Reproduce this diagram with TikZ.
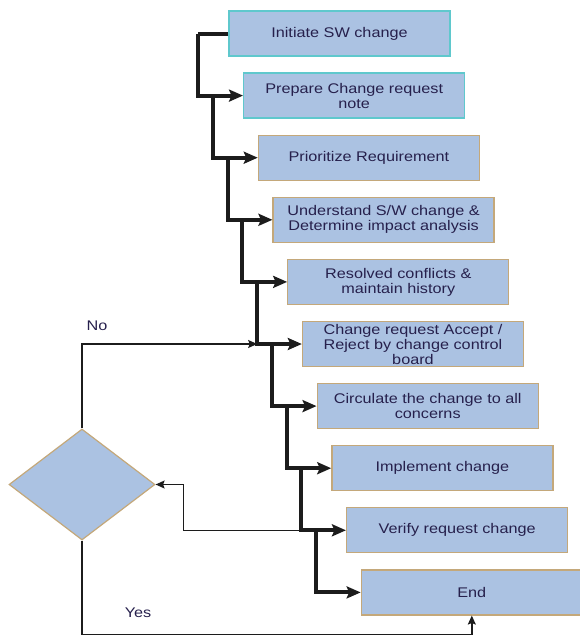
\documentclass[tikz,border=0pt]{standalone}
\usepackage{fontspec}
\setmainfont{Liberation Sans}[FakeStretch=1.16]
\usetikzlibrary{arrows.meta,shapes.geometric,calc}
\definecolor{boxfill}{RGB}{171,194,226}
\definecolor{tanb}{RGB}{196,168,122}
\definecolor{tealb}{RGB}{95,200,205}
\definecolor{txt}{RGB}{38,32,76}
\definecolor{ln}{RGB}{28,28,28}
\begin{document}
\begin{tikzpicture}[x=1pt,y=-1pt,
  stepbox/.style={draw=tanb,line width=1.3pt,fill=boxfill,minimum width=221pt,minimum height=45pt,inner sep=0pt,align=center,text=txt,font=\fontsize{14}{15}\selectfont},
  tealbox/.style={stepbox,draw=tealb},
  thk/.style={draw=ln,line width=4pt,-{Stealth[length=14pt,width=12pt,inset=2.5pt]}},
  thn/.style={draw=ln,line width=1.4pt,-{Stealth[length=9pt,width=8pt,inset=1.5pt]}},
  lbl/.style={text=txt,font=\fontsize{14}{15}\selectfont,inner sep=0pt}
]
\useasboundingbox (0,0) rectangle (579,637);

\node[tealbox] (b0) at (339.5,33.5) {Initiate SW change};
\node[tealbox] (b1) at (354.2,95.6) {Prepare Change request\\note};
\node[stepbox] (b2) at (368.9,157.7) {Prioritize Requirement};
\node[stepbox] (b3) at (383.6,219.8) {Understand S/W change \&\\Determine impact analysis};
\node[stepbox] (b4) at (398.3,281.9) {Resolved conflicts \&\\maintain history};
\node[stepbox] (b5) at (413.0,344.0) {Change request Accept /\\Reject by change control\\board};
\node[stepbox] (b6) at (427.7,406.1) {Circulate the change to all\\concerns};
\node[stepbox] (b7) at (442.4,468.2) {Implement change};
\node[stepbox] (b8) at (457.1,530.3) {Verify request change};
\node[stepbox] (b9) at (471.8,592.4) {End};

\node[diamond,draw=tanb,line width=1.2pt,fill=boxfill,minimum width=146pt,minimum height=111pt,inner sep=0pt] (d) at (82,484.5) {};

\foreach \k in {0,...,8} {
  \coordinate (v\k) at ($(b\k.west)+(-30,0)$);
}

\draw[thk,-] (b0.west) -- (v0);
\foreach \k [evaluate=\k as \n using int(\k+1)] in {0,...,8} {
  \draw[thk] (v\k) |- (b\n.west);
}

\draw[thn] (d.north) |- (v4 |- b5.west);
\draw[thn] (v7 |- b8.west) -| ($(d.east)+(28,0)$) -- (d.east);
\draw[thn] (d.south) |- ($(b9.south)+(0,19)$) -- (b9.south);

\node[lbl] (no) at (97,326) {No};
\node[lbl] (yes) at (138,613) {Yes};
\end{tikzpicture}
\end{document}
